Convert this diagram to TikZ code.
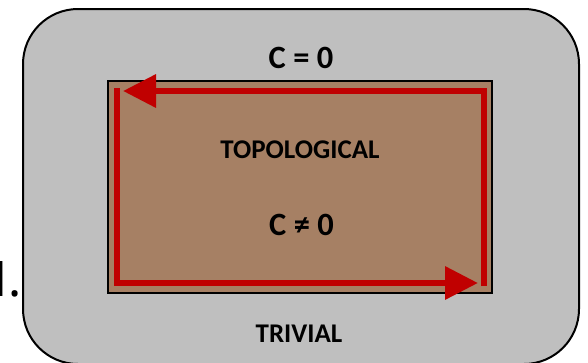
\documentclass[tikz,border=0pt]{standalone}
\usepackage{fontspec}
\setmainfont{Carlito}
\newfontfamily\numberfont{Noto Sans}
\usetikzlibrary{arrows.meta}
\definecolor{panelgray}{RGB}{191,191,191}
\definecolor{phasebrown}{RGB}{166,128,100}
\definecolor{loopred}{RGB}{192,0,0}
\begin{document}
\begin{tikzpicture}[x=1pt,y=-1pt,
  region/.style={draw=black, line width=2pt, inner sep=0pt, outer sep=0pt, anchor=north west},
  bigtext/.style={font=\bfseries\fontsize{32.5}{32.5}\selectfont, inner sep=0pt, anchor=base},
  smalltext/.style={font=\bfseries\fontsize{27}{27}\selectfont, inner sep=0pt, anchor=base},
  flow/.style={draw=loopred, line width=6.5pt, -{Triangle[length=33pt,width=32pt]}}
]
\useasboundingbox (0,0) rectangle (588,362);

% outer (trivial) region and inner (topological) region
\node[region, fill=panelgray, rounded corners=55pt,
      minimum width=556pt, minimum height=355pt] (outer) at (23,9) {};
\node[region, fill=phasebrown,
      minimum width=384pt, minimum height=212pt] (inner) at (108,81) {};

% edge-state loop
\coordinate (rstart) at (484,286);
\coordinate (rturn)  at (484,91);
\coordinate (rtip)   at (123,91);
\coordinate (lstart) at (117,88);
\coordinate (lturn)  at (117,283);
\coordinate (ltip)   at (478,283);
\draw[flow] (rstart) -- (rturn) -- (rtip);
\draw[flow] (lstart) -- (lturn) -- (ltip);

% labels
\node[bigtext]   (czero)   at (301,68)  {C = 0};
\node[smalltext] (topo)    at (300,158) {TOPOLOGICAL};
\node[bigtext]   (cnzero)  at (301.5,235) {C ≠ 0};
\node[smalltext] (trivial) at (299,342) {TRIVIAL};
\node[font=\numberfont\fontsize{49}{49}\selectfont, inner sep=0pt, anchor=base east] (num) at (21.5,296) {1\kern-5pt.};
\end{tikzpicture}
\end{document}
